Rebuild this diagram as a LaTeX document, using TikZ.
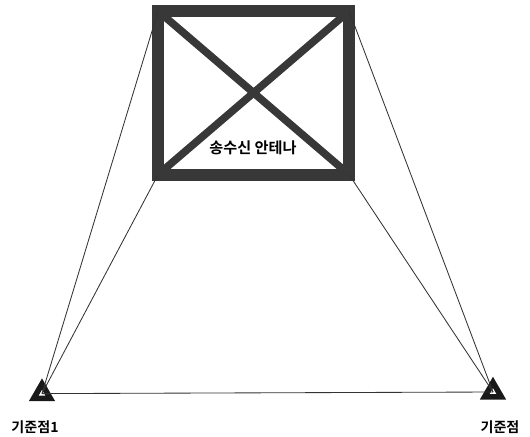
\documentclass[tikz,border=0pt]{standalone}
\usepackage{fontspec}
\newfontfamily\krfont{Noto Sans CJK KR}[BoldFont={Noto Sans CJK KR Bold}]
\usetikzlibrary{shapes.geometric, positioning}
\definecolor{framegray}{gray}{0.22}

\begin{document}
\begin{tikzpicture}[
  antenna/.style={rectangle, draw=framegray, line width=0.3cm, inner sep=0pt, outer sep=0pt,
                  minimum width=4.775cm, minimum height=4.09cm},
  cross/.style={draw=framegray, line width=0.19cm},
  base/.style={regular polygon, regular polygon sides=3, draw=black!90, fill=white,
               line width=0.14cm, minimum size=0.48cm, inner sep=0pt, outer sep=0pt},
  link/.style={draw=black!80, line width=0.6pt},
  basetext/.style={font=\krfont\bfseries\fontsize{10}{12}\selectfont}
]
\useasboundingbox (0,0) rectangle (13.25,10.9);

\node[antenna] (ant) at (6.34,8.58) {};
\node[base] (left) at (1.05,1.06) {};
\node[base] (right) at (12.325,1.10) {};

\draw[cross] (ant.north west) -- (ant.south east);
\draw[cross] (ant.north east) -- (ant.south west);

\draw[link] (ant.north west) -- (left.center);
\draw[link] (ant.south west) -- (left.center);
\draw[link] (ant.north east) -- (right.center);
\draw[link] (ant.south east) -- (right.center);
\draw[link] (left.center) -- (right.center);

\node[font=\krfont\bfseries\fontsize{10.8}{13}\selectfont] (anttext) at (6.325,7.2) {송수신 안테나};
\node[basetext] (lefttext) at (0.875,0.225) {기준점1};
\node[basetext] (righttext) at (12.5,0.225) {기준점};
\end{tikzpicture}
\end{document}
